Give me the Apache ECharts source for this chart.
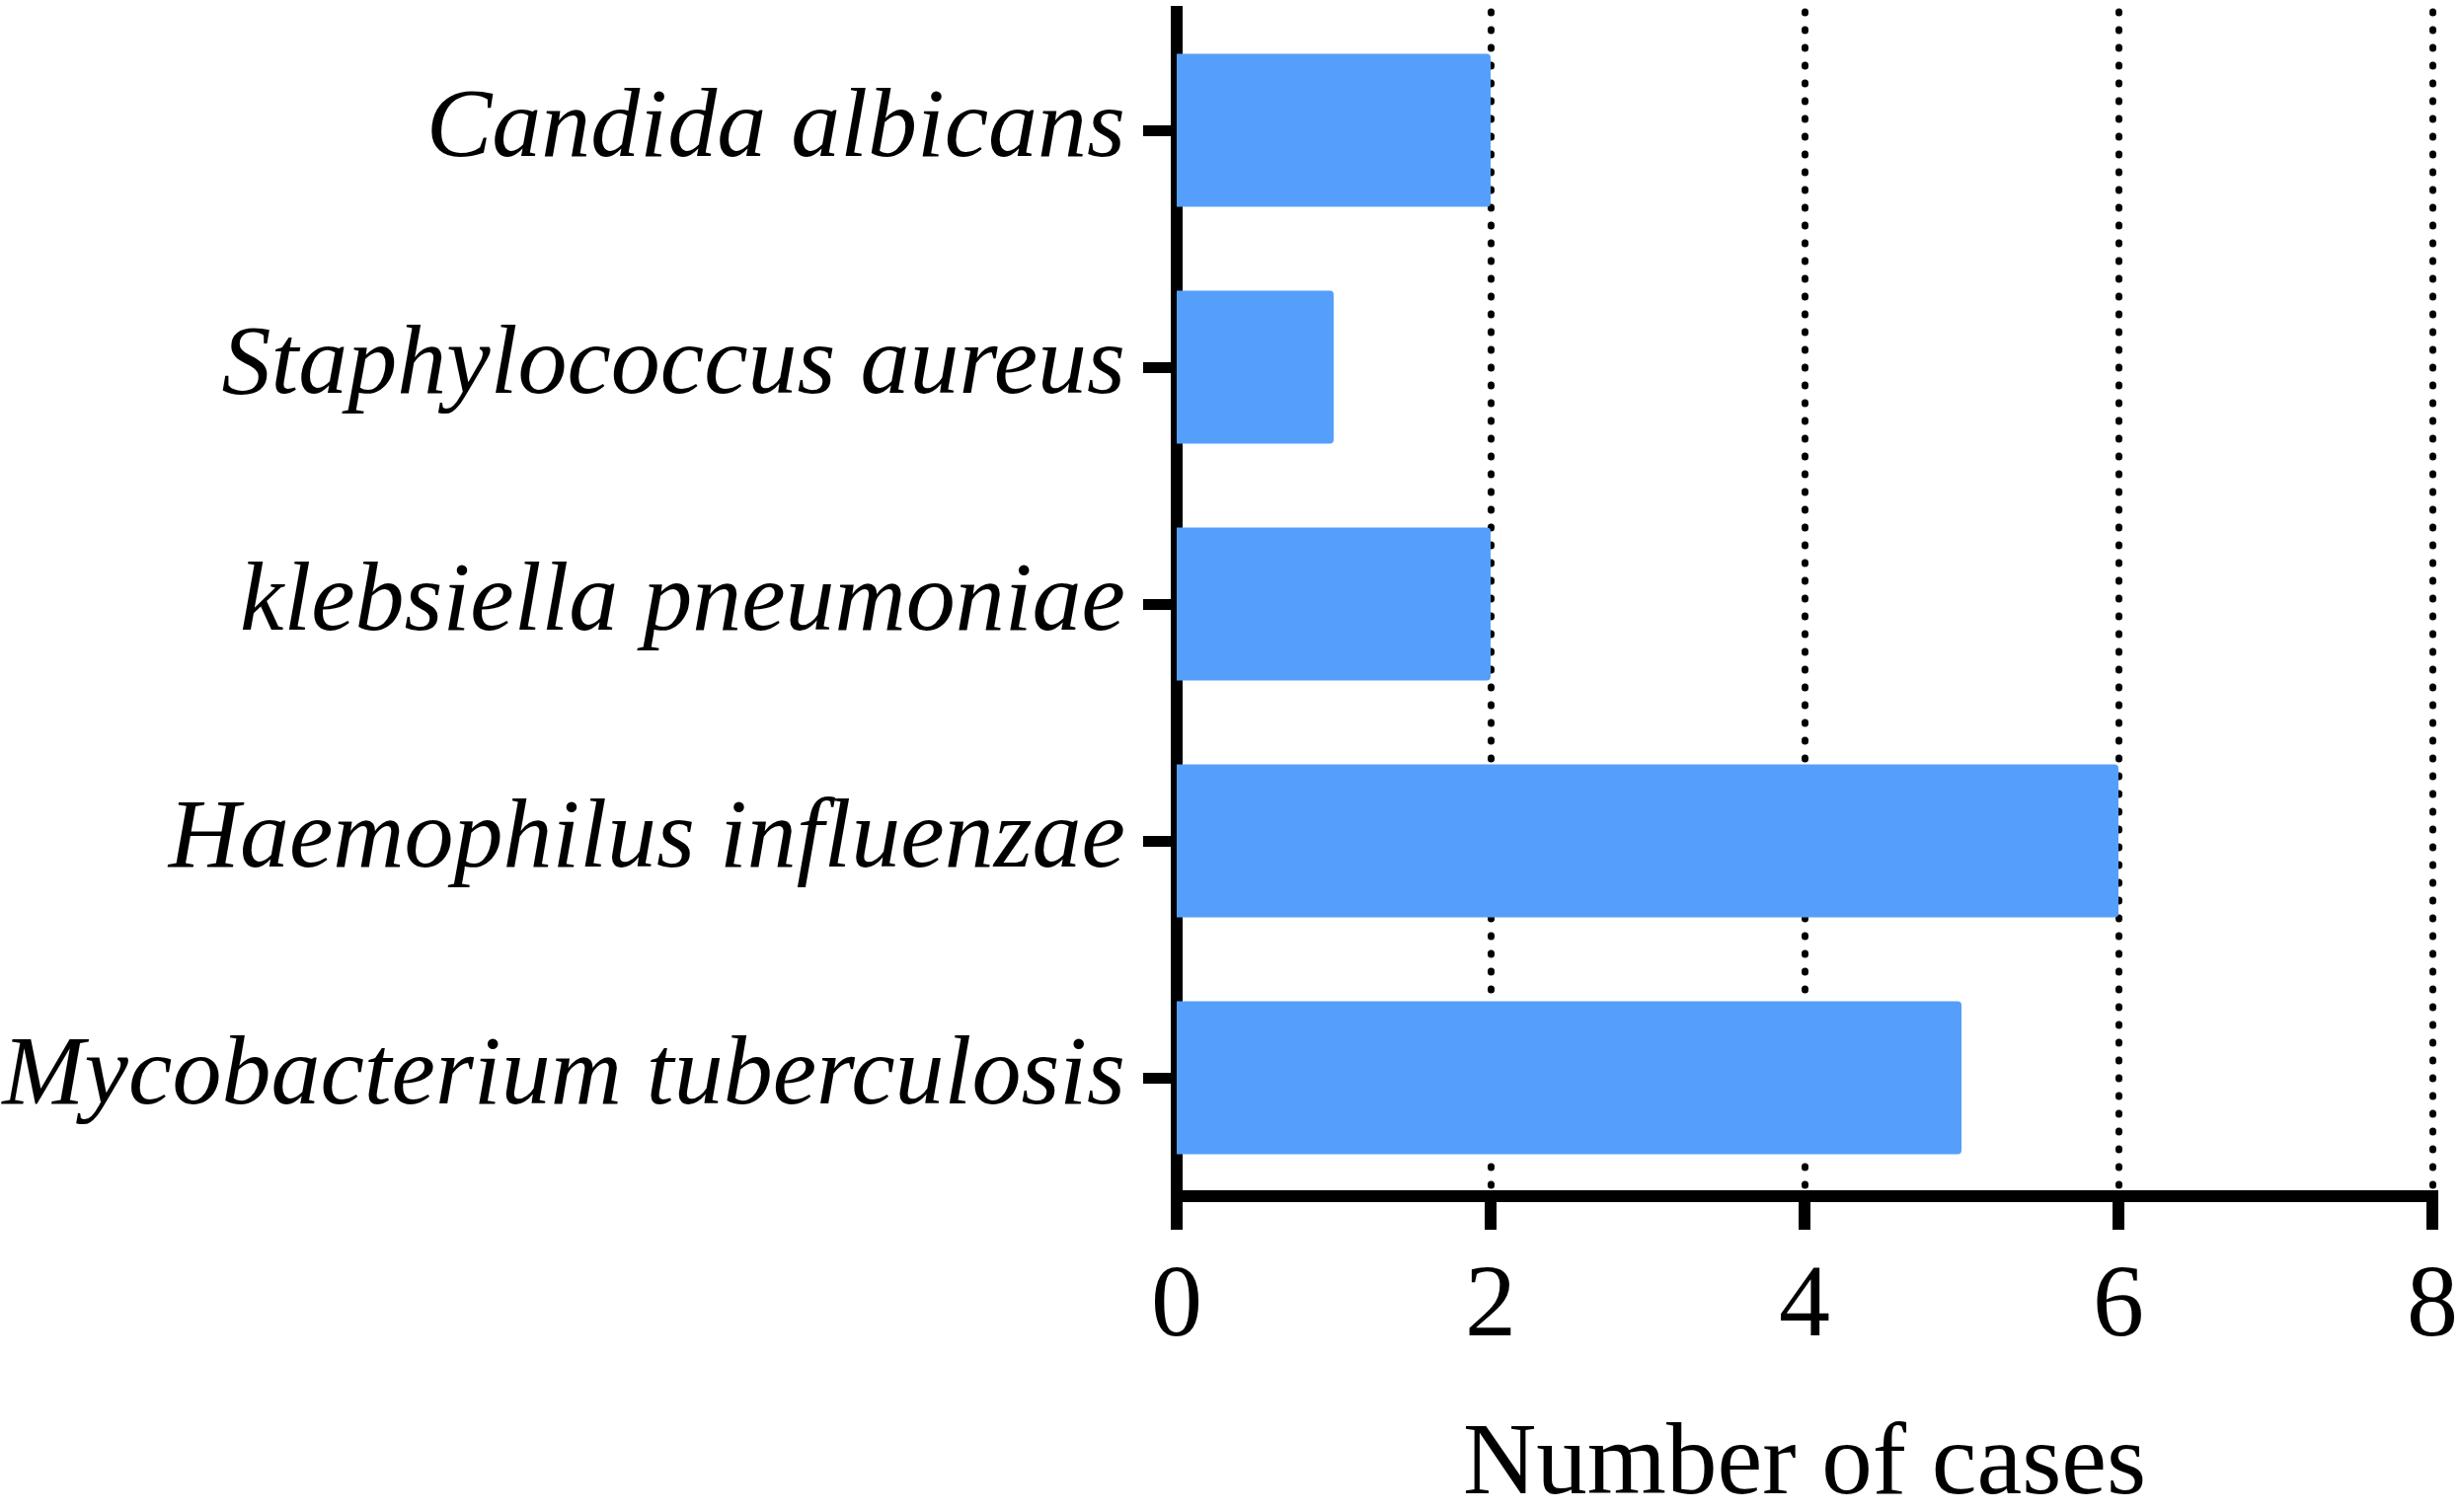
<!DOCTYPE html>
<html>
<head>
<meta charset="utf-8">
<title>Number of cases</title>
<script src="https://cdn.jsdelivr.net/npm/echarts@6/dist/echarts.min.js"></script>
<style>
    html, body { margin: 0; padding: 0; background: #fff; }
    #chart { width: 2492px; height: 1532px; }
</style>
</head>
<body>
<div id="chart"></div>
<script>
// 病原体（自上而下）
var categories = ['Candida albicans', 'Staphylococcus aureus', 'klebsiella pneumoniae', 'Haemophilus influenzae', 'Mycobacterium tuberculosis'];
// 病例数
var cases = [2, 1, 2, 6, 5];
// x轴刻度
var xTicks = [0, 2, 4, 6, 8];

var serif = '"Liberation Serif", "Times New Roman", serif';
var barBlue = '#559FFA';

function initChart() {
    var chart = echarts.init(document.getElementById('chart'));
    var option = {
        backgroundColor: '#fff',
        animation: false,
        grid: {
            left: 1192,
            right: 28,
            top: 12,
            bottom: 320,
            containLabel: false,
            outerBoundsMode: 'none'
        },
        xAxis: {
            type: 'value',
            min: xTicks[0],
            max: xTicks[xTicks.length - 1],
            interval: 2,
            name: 'Number of cases',
            nameLocation: 'middle',
            nameGap: 222,
            nameTextStyle: {
                color: '#000',
                fontFamily: serif,
                fontSize: 103
            },
            axisLine: {
                show: true,
                lineStyle: { color: '#000', width: 12, cap: 'square' }
            },
            axisTick: {
                show: true,
                length: 34,
                lineStyle: { color: '#000', width: 12 }
            },
            axisLabel: {
                color: '#000',
                fontFamily: serif,
                fontSize: 104,
                margin: 62
            },
            splitLine: {
                show: true,
                lineStyle: { color: '#000', width: 7, type: [1, 17], cap: 'round' }
            }
        },
        yAxis: {
            type: 'category',
            inverse: true,
            data: categories,
            axisLine: {
                show: true,
                lineStyle: { color: '#000', width: 12, cap: 'square' }
            },
            axisTick: {
                show: true,
                alignWithLabel: true,
                length: 34,
                lineStyle: { color: '#000', width: 11 }
            },
            axisLabel: {
                color: '#000',
                fontFamily: serif,
                fontStyle: 'italic',
                fontSize: 100,
                margin: 52,
                padding: [12, 0, 0, 0]
            },
            splitLine: { show: false }
        },
        series: [{
            name: 'Number of cases',
            type: 'bar',
            data: cases,
            barWidth: 155,
            itemStyle: {
                color: barBlue,
                borderRadius: [0, 4, 4, 0]
            }
        }]
    };
    chart.setOption(option);
}
initChart();
</script>
</body>
</html>
